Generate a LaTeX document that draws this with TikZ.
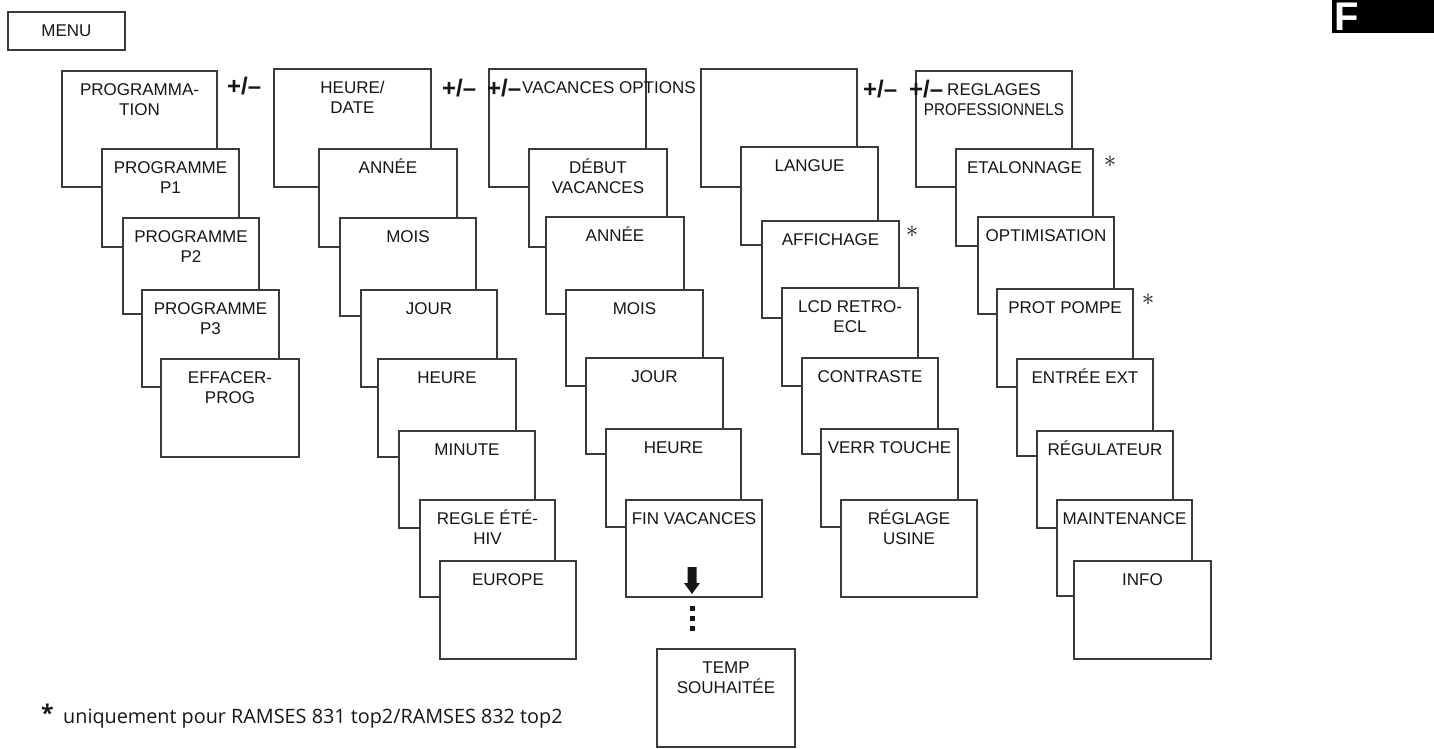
\documentclass[tikz,border=0pt]{standalone}
\usepackage{fontspec}
\setmainfont{Liberation Sans}
\newfontfamily\footfont{Open Sans}
\definecolor{linec}{HTML}{3A3A3A}
\definecolor{txtc}{HTML}{161616}
\tikzset{
  menubox/.style={draw=linec, line width=1.7pt, fill=white, inner sep=0pt, outer sep=0pt},
  boxtext/.style={text=txtc, font=\fontsize{17}{20}\selectfont, align=center, inner sep=0pt},
  pm/.style={text=txtc, font=\bfseries\fontsize{24}{24}\selectfont, inner sep=0pt, anchor=base west},
  starmark/.style={text=txtc, font=\fontsize{28}{28}\selectfont, inner sep=0pt},
}
\newcommand\bx[6]{%
  \node[menubox, minimum width={(#4-#2)*1pt}, minimum height={(#5-#3)*1pt}] (#1) at ({(#2+#4)/2},{(#3+#5)/2}) {};
  \node[boxtext, anchor=north] (#1t) at ([yshift=-8pt]#1.north) {\rule{0pt}{16pt}#6};}
\begin{document}
\begin{tikzpicture}[x=1pt,y=-1pt]
\useasboundingbox (0,0) rectangle (1434,748);
% flag
\node[fill=black, inner sep=0pt, minimum width=102pt, minimum height=33pt, anchor=north east] (flag) at (1434,0) {};
\node[text=white, font=\bfseries\fontsize{40}{40}\selectfont, inner sep=0pt, anchor=base west] (flagF) at (1334,30) {F};
% menu
\node[menubox, minimum width=117pt, minimum height=38pt, text=txtc, font=\fontsize{17}{20}\selectfont] (menu) at (66.5,31) {MENU};
% column 1
\bx{c1a}{62}{71}{217}{187}{PROGRAMMA-\\TION}
\bx{c1b}{102}{149}{239}{247}{PROGRAMME\\P1}
\bx{c1c}{123}{218}{259}{314}{PROGRAMME\\P2}
\bx{c1d}{142}{290}{279}{387}{PROGRAMME\\P3}
\bx{c1e}{161}{359}{299}{457}{EFFACER-\\PROG}
% column 2
\bx{c2a}{274}{69}{431}{187}{HEURE/\\DATE}
\bx{c2b}{319}{149}{457}{247}{ANNÉE}
\bx{c2c}{340}{218}{476}{316}{MOIS}
\bx{c2d}{361}{290}{497}{387}{JOUR}
\bx{c2e}{378}{359}{516}{457}{HEURE}
\bx{c2f}{399}{431}{535}{528}{MINUTE}
\bx{c2g}{420}{500}{555}{597}{REGLE ÉTÉ-\\HIV}
\bx{c2h}{440}{561}{576}{659}{EUROPE}
% column 3
\bx{c3a}{489}{69}{646}{187}{}
\bx{c3b}{529}{149}{667}{247}{DÉBUT\\VACANCES}
\bx{c3c}{546}{217}{684}{314}{ANNÉE}
\bx{c3d}{566}{290}{703}{386}{MOIS}
\bx{c3e}{586}{358}{723}{454}{JOUR}
\bx{c3f}{606}{429}{741}{527}{HEURE}
\bx{c3g}{626}{500}{762}{597}{FIN VACANCES}
\bx{c3h}{657}{649}{795}{747}{TEMP\\SOUHAITÉE}
\node[boxtext, anchor=base west] (vacopt) at (522,93) {VACANCES OPTIONS};
% arrow and dots
\fill[txtc] (687.5,567) -- (696.5,567) -- (696.5,583) -- (700,583) -- (692,594) -- (684,583) -- (687.5,583) -- cycle;
\fill[txtc] (689.5,606) rectangle (694.5,611);
\fill[txtc] (689.5,616) rectangle (694.5,621);
\fill[txtc] (689.5,626) rectangle (694.5,631);
% column 4
\bx{c4a}{701}{69}{857}{187}{}
\bx{c4b}{741}{147}{878}{245}{LANGUE}
\bx{c4c}{762}{221}{899}{318}{AFFICHAGE}
\bx{c4d}{782}{288}{918}{386}{LCD RETRO-\\ECL}
\bx{c4e}{802}{358}{938}{454}{CONTRASTE}
\bx{c4f}{821}{429}{958}{527}{VERR TOUCHE}
\bx{c4g}{841}{500}{977}{597}{RÉGLAGE\\USINE}
% column 5
\bx{c5a}{916}{71}{1072}{187}{REGLAGES\\\scalebox{0.9}[1]{PROFESSIONNELS}}
\bx{c5b}{956}{149}{1093}{246}{ETALONNAGE}
\bx{c5c}{978}{217}{1114}{314}{OPTIMISATION}
\bx{c5d}{997}{289}{1133}{387}{PROT POMPE}
\bx{c5e}{1017}{359}{1153}{456}{ENTRÉE EXT}
\bx{c5f}{1037}{431}{1173}{528}{RÉGULATEUR}
\bx{c5g}{1057}{500}{1192}{596}{MAINTENANCE}
\bx{c5h}{1074}{561}{1211}{659}{INFO}
% plus/minus signs
\node[pm] (pm1) at (227,94) {+/–};
\node[pm] (pm2) at (442,96) {+/–};
\node[pm] (pm3) at (487,96) {+/–};
\node[pm] (pm4) at (863,97) {+/–};
\node[pm] (pm5) at (909,97) {+/–};
% asterisks
\node[starmark] (st1) at (912,232) {$\ast$};
\node[starmark] (st2) at (1110,162) {$\ast$};
\node[starmark] (st3) at (1148,300) {$\ast$};
% footnote
\node[text=txtc, font=\footfont\bfseries\fontsize{23}{23}\selectfont, inner sep=0pt, anchor=base west] (footstar) at (41,721) {*};
\node[text=txtc, font=\footfont\fontsize{19.8}{20}\selectfont, inner sep=0pt, anchor=base west] (foot) at (63,723) {uniquement pour RAMSES 831 top2/RAMSES 832 top2};
\end{tikzpicture}
\end{document}
